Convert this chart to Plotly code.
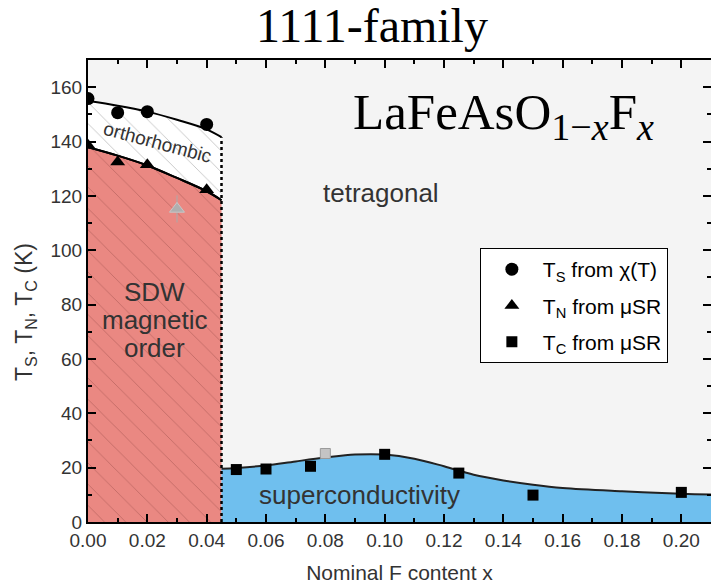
import plotly.graph_objects as go

# ---- data ----
ts_x = [0.00, 0.01, 0.02, 0.04]
ts_y = [155.8, 150.6, 151.0, 146.3]

tn_x = [0.00, 0.01, 0.02, 0.04]
tn_y = [138.6, 132.5, 131.5, 122.3]

tn_gray_x = [0.03]
tn_gray_y = [115.2]
tn_gray_err = [5.0]

tc_x = [0.05, 0.06, 0.075, 0.10, 0.125, 0.15, 0.20]
tc_y = [19.3, 19.5, 20.5, 24.9, 18.0, 9.9, 10.9]

tc_gray_x = [0.08]
tc_gray_y = [25.2]

# guide curves (control points)
ts_line_x = [0.0, 0.01, 0.02, 0.03, 0.04, 0.045]
ts_line_y = [154.9, 153.2, 151.0, 148.0, 144.5, 141.6]

tn_line_x = [0.0, 0.01, 0.02, 0.03, 0.04, 0.045]
tn_line_y = [137.9, 134.8, 131.2, 126.6, 121.7, 118.4]

sc_line_x = [0.045, 0.05, 0.06, 0.07, 0.08, 0.09, 0.10, 0.11, 0.12, 0.13,
             0.14, 0.15, 0.16, 0.18, 0.20, 0.21]
sc_line_y = [19.6, 19.9, 20.8, 22.3, 23.7, 24.8, 24.8, 23.3, 20.5, 17.4,
             15.3, 13.7, 12.5, 11.3, 10.4, 10.1]

boundary_x = 0.045

x_ticks = [0.00, 0.02, 0.04, 0.06, 0.08, 0.10, 0.12, 0.14, 0.16, 0.18, 0.20]
y_ticks = [0, 20, 40, 60, 80, 100, 120, 140, 160]

RED = "#EA8882"
BLUE = "#6FBFEE"
TXT = "#333333"
SANS = "Liberation Sans, Arial, sans-serif"
SERIF = "Liberation Serif, Times New Roman, serif"

fig = go.Figure()

# SDW region (under TN curve)
fig.add_trace(go.Scatter(
    x=tn_line_x, y=tn_line_y, mode="lines", line=dict(color="black", width=2, shape="spline"),
    fill="tozeroy", fillcolor=RED,
    fillpattern=dict(shape="\\", size=15, solidity=0.06, bgcolor=RED, fgcolor="#C26A66", fillmode="replace"),
    showlegend=False, hoverinfo="skip"))
# orthorhombic region (between TN and TS curves)
fig.add_trace(go.Scatter(
    x=ts_line_x, y=ts_line_y, mode="lines", line=dict(color="black", width=2, shape="spline"),
    fill="tonexty", fillcolor="white",
    fillpattern=dict(shape="\\", size=15, solidity=0.06, bgcolor="white", fgcolor="#C4C4C4", fillmode="replace"),
    showlegend=False, hoverinfo="skip"))
# redraw TN line on top
fig.add_trace(go.Scatter(
    x=tn_line_x, y=tn_line_y, mode="lines", line=dict(color="black", width=2, shape="spline"),
    showlegend=False, hoverinfo="skip"))
# superconducting dome
fig.add_trace(go.Scatter(
    x=sc_line_x, y=sc_line_y, mode="lines", line=dict(color="#222222", width=2, shape="spline"),
    fill="tozeroy", fillcolor=BLUE, showlegend=False, hoverinfo="skip"))
# dotted phase boundary
fig.add_trace(go.Scatter(
    x=[boundary_x, boundary_x], y=[0, ts_line_y[-1]], mode="lines",
    line=dict(color="black", width=2.5, dash="dot"), showlegend=False, hoverinfo="skip"))

# gray points
fig.add_trace(go.Scatter(
    x=tn_gray_x, y=tn_gray_y, mode="markers",
    marker=dict(symbol="triangle-up", size=13, color="#AFAFAF", line=dict(color="#C8C8C8", width=1)),
    error_y=dict(type="data", array=tn_gray_err, color="#AAAAAA", thickness=1, width=0),
    showlegend=False, hoverinfo="skip"))
fig.add_trace(go.Scatter(
    x=tc_gray_x, y=tc_gray_y, mode="markers",
    marker=dict(symbol="square", size=10, color="#C4C4C4", line=dict(color="#9A9A9A", width=1)),
    showlegend=False, hoverinfo="skip"))

# data points
fig.add_trace(go.Scatter(
    x=ts_x, y=ts_y, mode="markers", name="T<sub>S</sub> from χ(T)", legendgroup="ts",
    marker=dict(symbol="circle", size=13, color="black")))
fig.add_trace(go.Scatter(
    x=tn_x, y=tn_y, mode="markers", name="T<sub>N</sub> from μSR", legendgroup="tn",
    marker=dict(symbol="triangle-up", size=13, color="black")))
fig.add_trace(go.Scatter(
    x=tc_x, y=tc_y, mode="markers", name="T<sub>C</sub> from μSR", legendgroup="tc",
    marker=dict(symbol="square", size=11, color="black")))

# text labels
fig.add_annotation(x=0.0235, y=139.5, text="orthorhombic", showarrow=False, textangle=15,
                   font=dict(family=SANS, size=19, color=TXT))
fig.add_annotation(x=0.0988, y=121.0, text="tetragonal", showarrow=False,
                   font=dict(family=SANS, size=26, color=TXT))
for txt, yy in [("SDW", 84.7), ("magnetic", 74.4), ("order", 64.0)]:
    fig.add_annotation(x=0.0225, y=yy, text=txt, showarrow=False,
                       font=dict(family=SANS, size=26, color=TXT))
fig.add_annotation(x=0.0915, y=9.8, text="superconductivity", showarrow=False,
                   font=dict(family=SANS, size=26, color=TXT))
fig.add_annotation(x=0.0887, y=149.5, xanchor="left", yanchor="middle",
                   text="LaFeAsO<sub><span style='font-size:38px'>1−<i>x</i></span></sub>F"
                        "<sub><span style='font-size:38px'><i>x</i></span></sub>",
                   showarrow=False, font=dict(family=SERIF, size=51, color="black"))
fig.add_annotation(x=(372 - 88) / 623, y=(522 - 25) / 462, xref="paper", yref="paper",
                   xanchor="center", yanchor="middle", text="1111-family",
                   showarrow=False, font=dict(family=SERIF, size=48, color="black"))
# y-axis title
fig.add_annotation(x=(25 - 88) / 623, y=(522 - 312) / 462, xref="paper", yref="paper",
                   xanchor="center", yanchor="middle", textangle=-90,
                   text="T<sub>S</sub>, T<sub>N</sub>, T<sub>C</sub> (K)", showarrow=False,
                   font=dict(family=SANS, size=23, color=TXT))

axis_common = dict(
    showline=True, linecolor="black", linewidth=2, mirror="allticks",
    ticks="inside", ticklen=8, tickwidth=1.5, tickcolor="black",
    showgrid=False, zeroline=False,
    tickfont=dict(family=SANS, size=19, color=TXT),
)
fig.update_xaxes(
    range=[0, 0.21], tickvals=x_ticks, tickformat=".2f", automargin=False,
    minor=dict(dtick=0.01, ticks="inside", ticklen=4, tickwidth=1.5, tickcolor="black", tick0=0),
    title=dict(text="Nominal F content x", font=dict(family=SANS, size=21, color=TXT), standoff=18),
    **axis_common)
fig.update_yaxes(
    range=[0, 170], tickvals=y_ticks, automargin=False,
    minor=dict(dtick=10, ticks="inside", ticklen=4, tickwidth=1.5, tickcolor="black", tick0=0),
    **axis_common)

fig.update_layout(
    width=711, height=584,
    margin=dict(l=88, r=0, t=60, b=62),
    paper_bgcolor="white", plot_bgcolor="#F4F4F4",
    legend=dict(x=0.629, y=0.593, xanchor="left", yanchor="top", traceorder="grouped",
                tracegroupgap=6,
                bgcolor="white", bordercolor="black", borderwidth=1,
                font=dict(family=SANS, size=21, color="black"),
                itemwidth=52),
)

fig.write_html("out.html")
